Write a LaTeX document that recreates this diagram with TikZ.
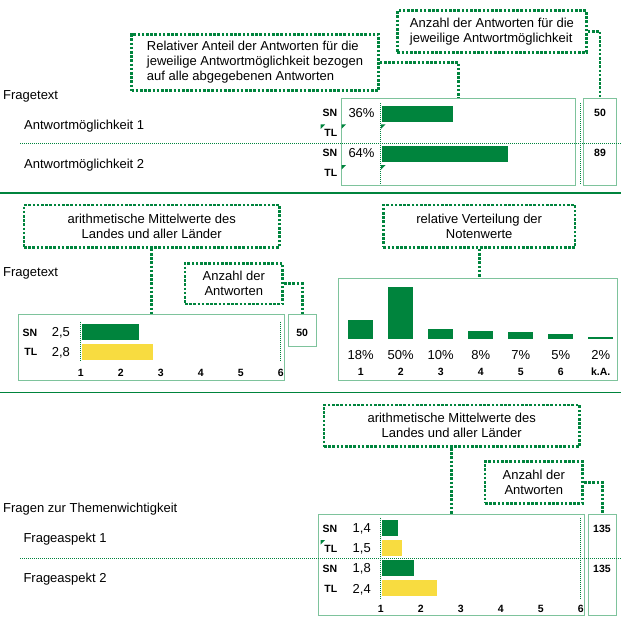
\documentclass[tikz,border=0pt]{standalone}
\usepackage{fontspec}
\setmainfont{Liberation Sans}
\definecolor{LVGreen}{HTML}{00843D}
\definecolor{LVLight}{HTML}{7EC39C}
\definecolor{LVYellow}{HTML}{F8DC40}
\newcommand{\normalsz}{\fontsize{13}{15}\selectfont}
\newcommand{\smallbf}{\fontsize{10.5}{12}\selectfont\bfseries}

\begin{document}
\begin{tikzpicture}[x=1pt, y=-1pt,
	note/.style={draw=LVGreen, line width=2.7pt, dash pattern=on 2.6pt off 1.6pt, inner sep=0pt, align=center, font=\normalsz},
	conn/.style={draw=LVGreen, line width=2.7pt, dash pattern=on 2.6pt off 1.6pt},
	panel/.style={draw=LVLight, line width=1pt, inner sep=0pt},
	guide/.style={draw=LVGreen, line width=1pt, dash pattern=on 1pt off 1pt},
	txt/.style={anchor=west, inner sep=0pt, text height=9.3pt, text depth=0pt, font=\normalsz},
	key/.style={inner sep=0pt, text height=7.5pt, text depth=0pt, font=\smallbf}]
	\useasboundingbox (0,0) rectangle (621,619);
	
	% --- Teil 1: Antwortmoeglichkeiten
	\node[note, align=left, minimum width=247, minimum height=56.4] (rel) at (255,62.5) {Relativer Anteil der Antworten für die\\jeweilige Antwortmöglichkeit bezogen\\auf alle abgegebenen Antworten};
	\node[note, align=left, minimum width=189, minimum height=41.6] (anz1) at (491.9,31.5) {Anzahl der Antworten für die\\jeweilige Antwortmöglichkeit};
	\node[txt] (frage1) at (3,95) {Fragetext};
	\node[txt] (am1) at (24,125) {Antwortmöglichkeit 1};
	\node[txt] (am2) at (24,164) {Antwortmöglichkeit 2};
	\node[panel, minimum width=233.6, minimum height=87] (panel1) at (458.5,141.8) {};
	\node[panel, minimum width=33.4, minimum height=87] (num1) at (600,141.8) {};
	\draw[conn] (rel.east) -| (panel1.north);
	\draw[conn] (anz1.east) -| (num1.north);
	
	\draw[guide] (20,143.8) -- (621,143.8);
	\draw[guide] (380.7,103) -- (380.7,185);
	\draw[guide] (580.7,103) -- (580.7,185);
	\fill[LVGreen] (382,106) rectangle (452.7,121.7);
	\fill[LVGreen] (382,146) rectangle (507.7,161.7);
	\fill[LVGreen] (320.7,124.3) -- ++(4.5,0) -- ++(-4.5,4.5) -- cycle;
	\fill[LVGreen] (341.5,124.3) -- ++(4.5,0) -- ++(-4.5,4.5) -- cycle;
	\fill[LVGreen] (381,124.3) -- ++(4.5,0) -- ++(-4.5,4.5) -- cycle;
	\fill[LVGreen] (341.5,165) -- ++(4.5,0) -- ++(-4.5,4.5) -- cycle;
	\fill[LVGreen] (381,165) -- ++(4.5,0) -- ++(-4.5,4.5) -- cycle;
	
	\node[key, anchor=east] (sn1) at (337.5,113) {SN};
	\node[key, anchor=east] (tl1) at (337.5,133) {TL};
	\node[key, anchor=east] (sn2) at (337.5,153) {SN};
	\node[key, anchor=east] (tl2) at (337.5,173) {TL};
	\node[txt] (p1) at (348.3,113) {36\%};
	\node[txt] (p2) at (348.3,153) {64\%};
	\node[key] (n1) at (600,113) {50};
	\node[key] (n2) at (600,153) {89};
	
	\draw[LVGreen, line width=1.2pt] (0,193) -- (621,193);
	
	% --- Teil 2: Notenfrage
	\node[note, minimum width=255.3, minimum height=42.3] (arith2) at (151.7,226.2) {arithmetische Mittelwerte des\\Landes und aller Länder};
	\node[note, minimum width=191.7, minimum height=42.3] (relv) at (479.2,226.2) {relative Verteilung der\\Notenwerte};
	\node[note, minimum width=97.7, minimum height=40.7] (anz2) at (233.8,283.7) {Anzahl der\\Antworten};
	\node[txt] (frage2) at (3,272) {Fragetext};
	\node[panel, minimum width=266, minimum height=66.4] (panel2) at (151.3,347.5) {};
	\node[panel, minimum width=27.7, minimum height=31.7] (num2) at (302.2,330.2) {};
	\node[panel, minimum width=279.4, minimum height=102.4] (dist) at (478,329.5) {};
	\draw[conn] (arith2.south) -- (arith2.south |- panel2.north);
	\draw[conn] (relv.south) -- (relv.south |- dist.north);
	\draw[conn] (anz2.east) -| (num2.north);
	
	\draw[guide] (80.7,321.7) -- (80.7,361.7);
	\draw[guide] (280.7,321.7) -- (280.7,361.7);
	\fill[LVGreen] (82,324) rectangle (138.7,340);
	\fill[LVYellow] (82,344) rectangle (153,360);
	\node[key, anchor=east] (sn3) at (37.5,332.3) {SN};
	\node[key, anchor=east] (tl3) at (37.5,351.7) {TL};
	\node[txt] (m1) at (51.7,332.3) {2,5};
	\node[txt] (m2) at (51.7,351.7) {2,8};
	\node[key] (n3) at (302.2,332.3) {50};
	\node[key] (ax1) at (80.7,372.7) {1};
	\node[key] (ax2) at (120.7,372.7) {2};
	\node[key] (ax3) at (160.7,372.7) {3};
	\node[key] (ax4) at (200.7,372.7) {4};
	\node[key] (ax5) at (240.7,372.7) {5};
	\node[key] (ax6) at (280.7,372.7) {6};
	
	\fill[LVGreen] (348.2,339) rectangle ++(25,-18.8);
	\fill[LVGreen] (388.2,339) rectangle ++(25,-52.3);
	\fill[LVGreen] (428.2,339) rectangle ++(25,-10);
	\fill[LVGreen] (468.2,339) rectangle ++(25,-8.2);
	\fill[LVGreen] (508.2,339) rectangle ++(25,-7.2);
	\fill[LVGreen] (548.2,339) rectangle ++(25,-5.1);
	\fill[LVGreen] (588.2,339) rectangle ++(25,-2.1);
	\node[key, font=\normalsz, text height=9.3pt] (v1) at (360.7,355) {18\%};
	\node[key, font=\normalsz, text height=9.3pt] (v2) at (400.7,355) {50\%};
	\node[key, font=\normalsz, text height=9.3pt] (v3) at (440.7,355) {10\%};
	\node[key, font=\normalsz, text height=9.3pt] (v4) at (480.7,355) {8\%};
	\node[key, font=\normalsz, text height=9.3pt] (v5) at (520.7,355) {7\%};
	\node[key, font=\normalsz, text height=9.3pt] (v6) at (560.7,355) {5\%};
	\node[key, font=\normalsz, text height=9.3pt] (v7) at (600.7,355) {2\%};
	\node[key] (c1) at (360.7,371.7) {1};
	\node[key] (c2) at (400.7,371.7) {2};
	\node[key] (c3) at (440.7,371.7) {3};
	\node[key] (c4) at (480.7,371.7) {4};
	\node[key] (c5) at (520.7,371.7) {5};
	\node[key] (c6) at (560.7,371.7) {6};
	\node[key] (c7) at (600.7,371.7) {k.A.};
	
	\draw[LVGreen, line width=1.2pt] (0,392.3) -- (621,392.3);
	
	% --- Teil 3: Themenwichtigkeit
	\node[note, minimum width=255.3, minimum height=41.7] (arith3) at (451.7,425.8) {arithmetische Mittelwerte des\\Landes und aller Länder};
	\node[note, minimum width=97.7, minimum height=41.6] (anz3) at (533.8,482.5) {Anzahl der\\Antworten};
	\node[txt] (frage3) at (3,508.3) {Fragen zur Themenwichtigkeit};
	\node[txt] (fa1) at (23.3,538.3) {Frageaspekt 1};
	\node[txt] (fa2) at (23.3,578.3) {Frageaspekt 2};
	\node[panel, minimum width=266, minimum height=101.2] (panel3) at (451.3,564.9) {};
	\node[panel, minimum width=28.2, minimum height=101.2] (num3) at (602.4,564.9) {};
	\draw[conn] (arith3.south) -- (arith3.south |- panel3.north);
	\draw[conn] (anz3.east) -| (num3.north);
	
	\draw[guide] (20,558.3) -- (621,558.3);
	\draw[guide] (380.7,517.5) -- (380.7,598.3);
	\draw[guide] (580.7,517.5) -- (580.7,598.3);
	\fill[LVGreen] (382,520) rectangle (397.7,535.7);
	\fill[LVYellow] (382,540) rectangle (401.7,555.7);
	\fill[LVGreen] (382,560) rectangle (414,575.7);
	\fill[LVYellow] (382,580) rectangle (437,595.7);
	\fill[LVGreen] (320.7,540) -- ++(4.5,0) -- ++(-4.5,4.5) -- cycle;
	\node[key, anchor=east] (sn4) at (337.5,528.3) {SN};
	\node[key, anchor=east] (tl4) at (337.5,548.3) {TL};
	\node[key, anchor=east] (sn5) at (337.5,568.3) {SN};
	\node[key, anchor=east] (tl5) at (337.5,589) {TL};
	\node[txt] (m3) at (352.5,528.3) {1,4};
	\node[txt] (m4) at (352.5,548.3) {1,5};
	\node[txt] (m5) at (352.5,568.3) {1,8};
	\node[txt] (m6) at (352.5,589) {2,4};
	\node[key] (n4) at (602,528.3) {135};
	\node[key] (n5) at (602,568.3) {135};
	\node[key] (bx1) at (380.7,608.3) {1};
	\node[key] (bx2) at (420.7,608.3) {2};
	\node[key] (bx3) at (460.7,608.3) {3};
	\node[key] (bx4) at (500.7,608.3) {4};
	\node[key] (bx5) at (540.7,608.3) {5};
	\node[key] (bx6) at (580.7,608.3) {6};
\end{tikzpicture}
\end{document}
